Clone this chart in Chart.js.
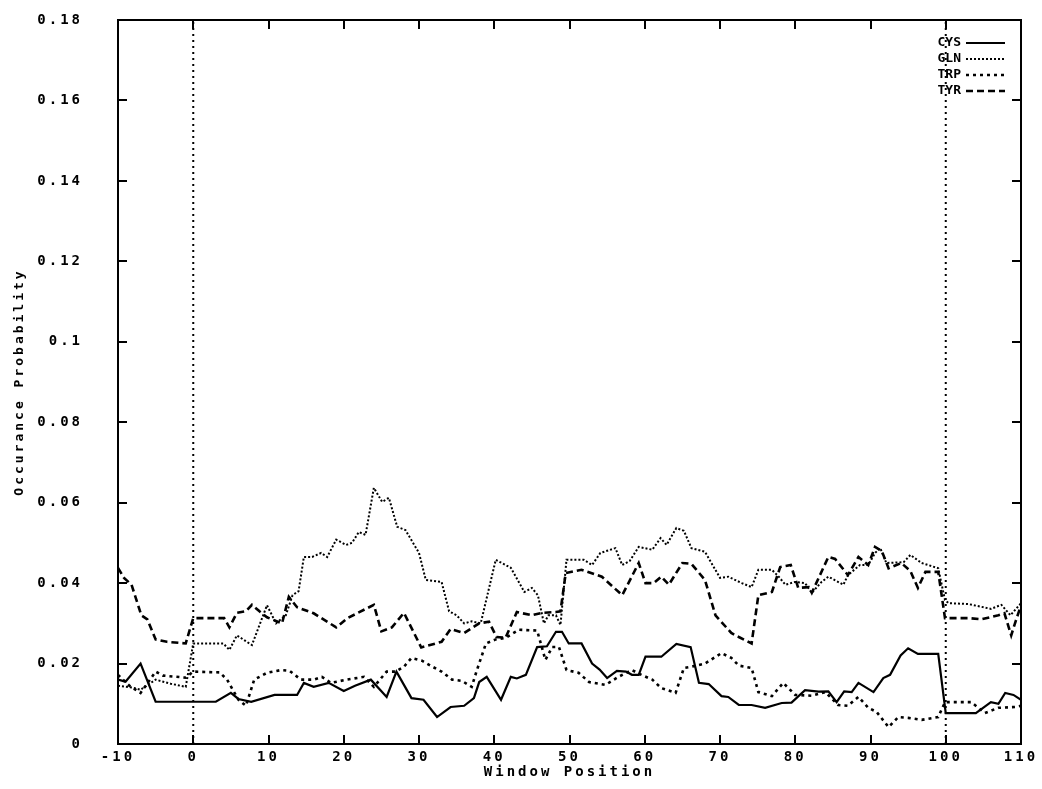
<!DOCTYPE html>
<html>
<head>
<meta charset="utf-8">
<title>Occurance Probability by Window Position</title>
<script src="https://cdn.jsdelivr.net/npm/chart.js@4/dist/chart.umd.min.js"></script>
<style>
  html, body { margin: 0; padding: 0; background: #ffffff; }
  #wrap { width: 1042px; height: 789px; }
</style>
</head>
<body>
<div id="wrap"><canvas id="chart" width="1042" height="789"></canvas></div>
<script>
// Residue occurrence probability along the sliding window
const seriesNames = ['CYS', 'GLN', 'TRP', 'TYR'];

const cysX = [-10, -9, -7, -5, 3, 5, 6, 7.7, 10.8, 13.8, 14.7, 16, 18, 20, 21.5, 23.6, 25.7, 27, 29, 30.6,
  32.4, 34.2, 36, 37.3, 38, 39, 40.9, 42.2, 43, 44.2, 45.7, 47, 48.2, 49, 49.9, 51.6, 53, 54, 55, 56.3,
  57.5, 58.3, 59.2, 60.1, 62.2, 64.2, 66.1, 67.2, 68.5, 70.2, 71.1, 72.5, 74.2, 76, 78.2, 79.5, 81.3, 83.1,
  84.4, 85.5, 86.5, 87.5, 88.4, 90.4, 91.7, 92.6, 94, 95, 96.3, 99, 100, 104, 106, 107, 107.9, 109, 110];
const cysY = [0.016, 0.0155, 0.020, 0.0105, 0.0105, 0.0127, 0.0112, 0.0105, 0.0122, 0.0122, 0.0152, 0.0142,
  0.0152, 0.0132, 0.0145, 0.016, 0.0117, 0.018, 0.0114, 0.011, 0.0067, 0.0092, 0.0095, 0.0114, 0.0154,
  0.0167, 0.011, 0.0167, 0.0163, 0.0172, 0.0241, 0.0243, 0.0279, 0.0279, 0.025, 0.025, 0.020, 0.0185,
  0.0164, 0.0182, 0.0180, 0.0172, 0.0172, 0.0217, 0.0217, 0.0249, 0.0241, 0.0152, 0.0149, 0.0119, 0.0117,
  0.0097, 0.0097, 0.009, 0.0102, 0.0103, 0.0134, 0.013, 0.0131, 0.0104, 0.0131, 0.0129, 0.0152, 0.0129,
  0.0164, 0.0172, 0.022, 0.0238, 0.0224, 0.0224, 0.0077, 0.0077, 0.0104, 0.0100, 0.0127, 0.0122, 0.011];

const glnX = [-10, -8, -7, -5, -3, -1, 0, 4, 4.8, 5.8, 7.8, 9.8, 11, 12.3, 13.2, 14, 14.7, 15.8, 17, 17.8,
  19, 20.3, 21.1, 22, 22.9, 24, 25.1, 26, 27.1, 28.2, 30, 30.9, 33, 34, 35, 36, 37, 38.2, 40.2, 42.2, 44,
  45, 45.8, 46.6, 47.2, 48.2, 48.8, 49.6, 51.9, 53, 54.1, 56.1, 57, 58, 59.2, 61, 62.1, 62.9, 64.2, 65.2,
  66.2, 68, 70, 71.1, 72.9, 74.2, 75.1, 76.9, 77.8, 78.7, 80, 81.3, 82.2, 83.5, 84.4, 86.4, 87, 88.6,
  89.7, 90.6, 91.3, 92.1, 94.4, 95.3, 96.8, 99, 99.9, 100.4, 103, 106, 107.4, 108.6, 109.3, 110];
const glnY = [0.0145, 0.014, 0.0135, 0.016, 0.015, 0.0142, 0.025, 0.025, 0.0234, 0.027, 0.0246, 0.0345,
  0.030, 0.032, 0.037, 0.038, 0.0465, 0.0465, 0.0475, 0.0465, 0.0508, 0.0495, 0.050, 0.0527, 0.052,
  0.0637, 0.0602, 0.0612, 0.054, 0.0532, 0.0475, 0.0408, 0.0403, 0.033, 0.032, 0.030, 0.0305, 0.030,
  0.0458, 0.0438, 0.0378, 0.0388, 0.037, 0.030, 0.032, 0.032, 0.0296, 0.0458, 0.0458, 0.0445, 0.0475,
  0.0487, 0.0445, 0.0455, 0.049, 0.0483, 0.0512, 0.0495, 0.0537, 0.053, 0.0487, 0.0478, 0.0413, 0.0416,
  0.040, 0.039, 0.0433, 0.0433, 0.0416, 0.0396, 0.0403, 0.040, 0.0376, 0.0403, 0.0416, 0.0396, 0.042,
  0.0445, 0.0445, 0.0475, 0.0487, 0.045, 0.0452, 0.047, 0.045, 0.0437, 0.0358, 0.035, 0.0348, 0.0336,
  0.0346, 0.032, 0.0335, 0.035];

const trpX = [-10, -8.5, -7, -5, -4, -1, 0, 3.5, 4.5, 6, 7, 8.1, 9.8, 11.7, 12.8, 14.3, 16, 17.1, 18.3,
  20.4, 22.7, 24, 25.7, 26.9, 28, 29, 30.4, 31.8, 33, 34.4, 35.7, 37, 37.7, 38.9, 40.2, 41.5, 43.3, 45.7,
  46.8, 47.7, 48.6, 49.6, 51.2, 52.6, 54.8, 56.5, 58.3, 59.2, 61, 62.2, 64.1, 65.2, 66.2, 68, 70.2, 71.5,
  72.5, 74.2, 75.1, 76.9, 78.4, 80, 82.2, 84, 85.7, 87, 88.4, 89.7, 90.8, 92.4, 93.7, 95, 96.8, 99, 99.9,
  103.4, 105.2, 107, 109.2, 110];
const trpY = [0.0172, 0.0145, 0.0127, 0.018, 0.017, 0.0165, 0.018, 0.0178, 0.016, 0.011, 0.0095, 0.016,
  0.0177, 0.0184, 0.0182, 0.016, 0.016, 0.0167, 0.0152, 0.016, 0.0167, 0.0142, 0.018, 0.018, 0.0192,
  0.0214, 0.0207, 0.0192, 0.018, 0.016, 0.0157, 0.0142, 0.0184, 0.025, 0.026, 0.0264, 0.0284, 0.0282,
  0.0209, 0.0241, 0.0241, 0.0184, 0.0177, 0.0154, 0.0147, 0.0167, 0.0184, 0.0175, 0.016, 0.0139, 0.0127,
  0.0189, 0.0192, 0.020, 0.0226, 0.0214, 0.0195, 0.0189, 0.0129, 0.0119, 0.0152, 0.0122, 0.0120, 0.0129,
  0.0097, 0.0095, 0.0117, 0.009, 0.008, 0.0042, 0.0067, 0.0065, 0.006, 0.0067, 0.0104, 0.0104, 0.0077,
  0.009, 0.0092, 0.0095];

const tyrX = [-10, -9.2, -8.2, -6.9, -6.1, -5, -3.5, -1, 0, 4.1, 4.8, 5.8, 7, 7.8, 8.8, 9.8, 11.8, 12.7,
  13.8, 16, 19, 20.5, 24, 25, 26.4, 28, 30.3, 33, 34.2, 36, 38, 39.3, 40.3, 41.5, 43, 45, 46.3, 48.2, 48.8,
  49.5, 51.6, 54.3, 57, 59.2, 60.1, 61.2, 62.2, 63.2, 65, 66.2, 68, 69.4, 71.5, 72.5, 74.2, 75.1, 76.9, 78,
  79.4, 80.4, 81.8, 82.2, 84.4, 85.3, 87, 88.4, 89.7, 90.6, 91.5, 92.4, 94.1, 95.3, 96.3, 97.3, 99, 99.9,
  103, 104.7, 107, 107.8, 108.7, 109.2, 110];
const tyrY = [0.0438, 0.0413, 0.0396, 0.032, 0.031, 0.026, 0.0254, 0.025, 0.0313, 0.0313, 0.029, 0.0326,
  0.033, 0.0346, 0.033, 0.0315, 0.030, 0.0366, 0.034, 0.0325, 0.029, 0.0313, 0.0346, 0.028, 0.029, 0.0326,
  0.024, 0.0254, 0.0286, 0.0276, 0.030, 0.0304, 0.0266, 0.0264, 0.0328, 0.032, 0.0326, 0.0328, 0.033,
  0.0425, 0.0433, 0.0416, 0.037, 0.045, 0.040, 0.040, 0.0416, 0.0396, 0.045, 0.0448, 0.0408, 0.032, 0.0276,
  0.0266, 0.025, 0.037, 0.0378, 0.044, 0.0445, 0.0388, 0.039, 0.0376, 0.0465, 0.046, 0.042, 0.0465, 0.0445,
  0.049, 0.048, 0.0437, 0.045, 0.043, 0.0388, 0.0428, 0.0428, 0.0313, 0.0313, 0.031, 0.032, 0.0325, 0.027,
  0.030, 0.0345];

// Window boundaries marked with vertical dotted lines
const boundaryPositions = [0, 100];

const xTicks = { min: -10, max: 110, step: 10 };
const yTicks = { min: 0, max: 0.18, step: 0.02 };

const FONT_FAMILY = '"DejaVu Sans Mono", "Liberation Mono", monospace';

function pts(xs, ys) { return xs.map((x, i) => ({ x: x, y: ys[i] })); }

const styles = {
  CYS: { borderWidth: 2.2, borderDash: [] },
  GLN: { borderWidth: 2, borderDash: [2, 2] },
  TRP: { borderWidth: 2.6, borderDash: [3, 4] },
  TYR: { borderWidth: 2.6, borderDash: [7, 4] }
};

const seriesData = { CYS: pts(cysX, cysY), GLN: pts(glnX, glnY), TRP: pts(trpX, trpY), TYR: pts(tyrX, tyrY) };

const datasets = seriesNames.map(name => ({
  label: name,
  data: seriesData[name],
  borderColor: '#000000',
  borderWidth: styles[name].borderWidth,
  borderDash: styles[name].borderDash,
  pointRadius: 0,
  tension: 0,
  fill: false,
  inLegend: true
}));

boundaryPositions.forEach(p => {
  datasets.push({
    label: '',
    data: [{ x: p, y: yTicks.min }, { x: p, y: yTicks.max }],
    borderColor: '#000000',
    borderWidth: 2,
    borderDash: [2, 4],
    pointRadius: 0,
    fill: false,
    inLegend: false
  });
});

// Box frame with inward tick marks on all four sides
const frameTicks = {
  id: 'frameTicks',
  afterDraw(chart) {
    const { ctx, chartArea: a, scales } = chart;
    ctx.save();
    ctx.letterSpacing = '0px';
    ctx.strokeStyle = '#000';
    ctx.lineWidth = 2;
    ctx.setLineDash([]);
    ctx.strokeRect(a.left, a.top, a.right - a.left, a.bottom - a.top);
    const len = 9;
    ctx.beginPath();
    scales.x.ticks.forEach(t => {
      const px = Math.round(scales.x.getPixelForValue(t.value));
      ctx.moveTo(px, a.bottom); ctx.lineTo(px, a.bottom - len);
      ctx.moveTo(px, a.top); ctx.lineTo(px, a.top + len);
    });
    scales.y.ticks.forEach(t => {
      const py = Math.round(scales.y.getPixelForValue(t.value));
      ctx.moveTo(a.left, py); ctx.lineTo(a.left + len, py);
      ctx.moveTo(a.right, py); ctx.lineTo(a.right - len, py);
    });
    ctx.stroke();
    ctx.restore();
  }
};

// Key in the top-right corner: name, then a sample of the line style
const keyPlugin = {
  id: 'keyPlugin',
  afterDraw(chart) {
    const { ctx, chartArea: a } = chart;
    const items = chart.data.datasets.filter(d => d.inLegend);
    ctx.save();
    ctx.font = 'bold 13px ' + FONT_FAMILY;
    ctx.letterSpacing = '0px';
    ctx.fillStyle = '#000';
    ctx.textAlign = 'right';
    ctx.textBaseline = 'middle';
    const textRight = a.right - 60;
    const lineStart = a.right - 55;
    const lineEnd = a.right - 16;
    items.forEach((d, i) => {
      const y = a.top + 23 + i * 16;
      ctx.fillText(d.label, textRight, y);
      ctx.beginPath();
      ctx.strokeStyle = '#000';
      ctx.lineWidth = d.borderWidth;
      ctx.setLineDash(d.borderDash);
      ctx.moveTo(lineStart, y);
      ctx.lineTo(lineEnd, y);
      ctx.stroke();
    });
    ctx.restore();
  }
};

const spacing = {
  id: 'spacing',
  beforeDraw(chart) { chart.ctx.letterSpacing = '3px'; }
};

new Chart(document.getElementById('chart'), {
  type: 'line',
  data: { datasets: datasets },
  plugins: [spacing, frameTicks, keyPlugin],
  options: {
    responsive: false,
    animation: false,
    devicePixelRatio: 1,
    layout: { padding: { top: 20, right: 21, left: 0, bottom: 0 } },
    plugins: { legend: { display: false }, tooltip: { enabled: false } },
    scales: {
      x: {
        type: 'linear',
        min: xTicks.min,
        max: xTicks.max,
        ticks: {
          stepSize: xTicks.step,
          color: '#000',
          padding: 5,
          maxRotation: 0,
          font: { family: FONT_FAMILY, size: 14, weight: 'bold' },
          callback: v => String(v)
        },
        grid: { display: false, drawTicks: false },
        border: { display: false },
        title: {
          display: true,
          text: 'Window Position',
          color: '#000',
          font: { family: FONT_FAMILY, size: 14, weight: 'bold' },
          padding: { top: 0, bottom: 8 }
        },
        afterFit: s => { s.height = 45; s.paddingTop = 0; }
      },
      y: {
        type: 'linear',
        min: yTicks.min,
        max: yTicks.max,
        ticks: {
          stepSize: yTicks.step,
          color: '#000',
          padding: 35,
          font: { family: FONT_FAMILY, size: 14, weight: 'bold' },
          callback: v => String(+v.toFixed(2))
        },
        grid: { display: false, drawTicks: false },
        border: { display: false },
        title: {
          display: true,
          text: 'Occurance Probability',
          color: '#000',
          font: { family: FONT_FAMILY, size: 13, weight: 'bold' },
          padding: { top: 12, bottom: 0 }
        },
        afterFit: s => { s.width = 118; s.paddingTop = 0; s.paddingBottom = 0; }
      }
    }
  }
});
</script>
</body>
</html>
